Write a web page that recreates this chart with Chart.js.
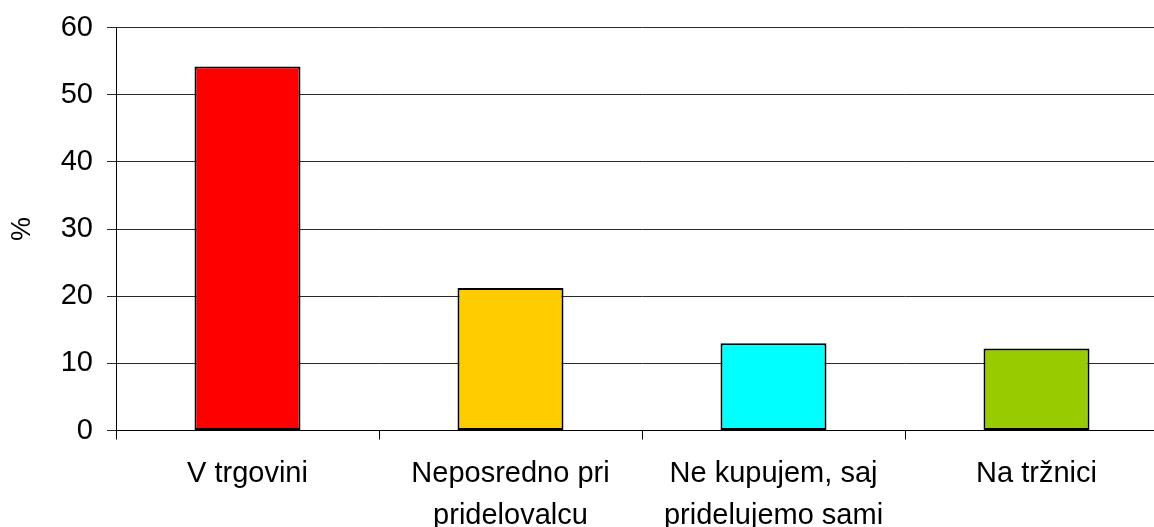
<!DOCTYPE html>
<html>
<head>
<meta charset="utf-8">
<script src="https://cdn.jsdelivr.net/npm/chart.js@4/dist/chart.umd.min.js"></script>
<style>
  html, body { margin: 0; padding: 0; background: #fff; overflow: hidden; }
  #wrap { width: 1154px; height: 527px; overflow: hidden; }
  canvas { display: block; }
</style>
</head>
<body>
<div id="wrap"><canvas id="c" width="1170" height="527"></canvas></div>
<script>
// Where people buy: share of respondents (%)
const categories = [
  ['V trgovini'],
  ['Neposredno pri', 'pridelovalcu'],
  ['Ne kupujem, saj', 'pridelujemo sami'],
  ['Na tržnici']
];
const shares = [54.2, 21.2, 13.0, 12.2];
const yTicks = [0, 10, 20, 30, 40, 50, 60];
const yTitle = '%';

const barColors = ['#FF0000', '#FFCC00', '#00FFFF', '#99CC00'];
const FONT = '"Liberation Sans", Arial, Helvetica, sans-serif';

new Chart(document.getElementById('c'), {
  type: 'bar',
  data: {
    labels: categories,
    datasets: [{
      data: shares,
      backgroundColor: barColors,
      borderColor: '#000',
      borderWidth: 2,
      borderSkipped: false,
      categoryPercentage: 1,
      barPercentage: 0.403
    }]
  },
  options: {
    responsive: false,
    animation: false,
    devicePixelRatio: 1,
    layout: { padding: { left: 0, top: 27.5, right: 2, bottom: 0 } },
    plugins: { legend: { display: false }, tooltip: { enabled: false } },
    scales: {
      x: {
        offset: true,
        grid: {
          offset: true,
          drawOnChartArea: false,
          drawTicks: true,
          tickLength: 9,
          color: '#000',
          lineWidth: 1
        },
        border: { color: '#000', width: 1 },
        ticks: {
          color: '#000',
          font: { family: FONT, size: 29, lineHeight: 1.45 },
          padding: 13,
          maxRotation: 0,
          autoSkip: false
        },
        afterFit(scale) {
          scale.height = 96.5;
          scale.paddingLeft = 0;
          scale.paddingRight = 0;
        }
      },
      y: {
        min: 0,
        max: 60,
        afterBuildTicks(scale) { scale.ticks = yTicks.map(v => ({ value: v })); },
        grid: {
          color: '#2a2a2a',
          lineWidth: 1,
          tickLength: 9,
          drawTicks: true
        },
        border: { color: '#000', width: 1 },
        ticks: {
          color: '#000',
          font: { family: FONT, size: 29 },
          padding: 14
        },
        title: {
          display: true,
          text: yTitle,
          color: '#000',
          font: { family: FONT, size: 27 },
          padding: { top: 6, bottom: 0 }
        },
        afterFit(scale) {
          scale.width = 116;
          scale.paddingTop = 0;
          scale.paddingBottom = 0;
        }
      }
    }
  }
});
</script>
</body>
</html>
